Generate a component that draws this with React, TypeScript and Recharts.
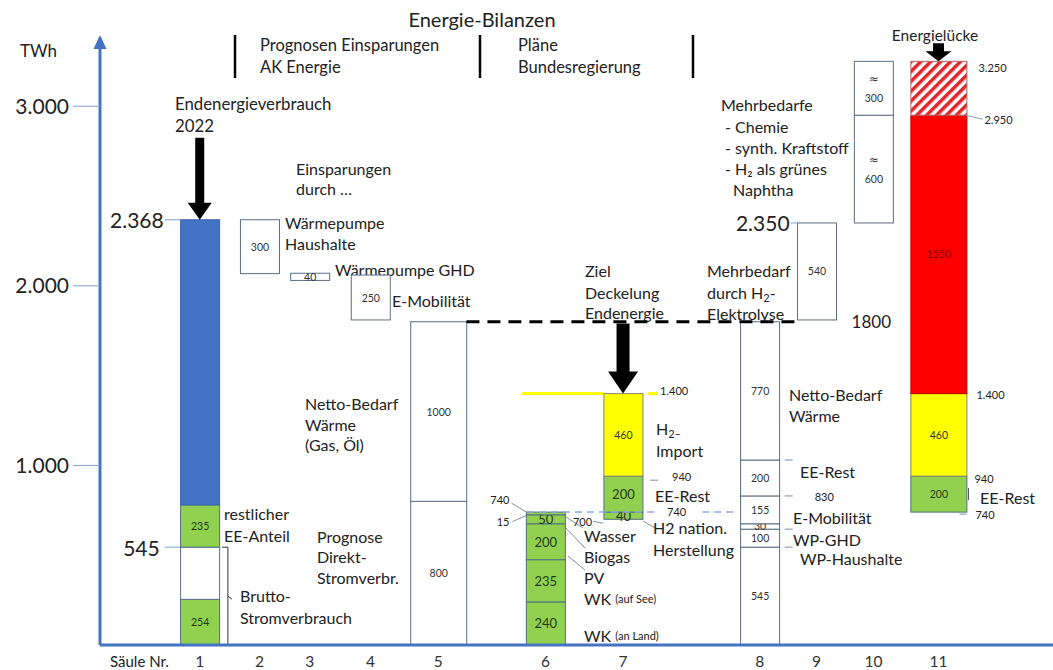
import React from 'react';
import {
  ComposedChart,
  Bar,
  XAxis,
  YAxis,
  ReferenceLine,
  ReferenceDot,
  ReferenceArea,
  Customized,
} from 'recharts';

// ---------------- data (TWh) ----------------
const columnNames = ['1', '2', '3', '4', '5', '6', '7', '8', '9', '10', '11'];
// bottom of each floating column
const columnBase = [0, 2068, 2030, 1810, 0, 0, 700, 0, 1810, 2350, 740];
// stacked segments, bottom to top
const columnSegments: number[][] = [
  [254, 291, 235, 1588],
  [300],
  [40],
  [250],
  [800, 1000],
  [240, 235, 200, 50, 15],
  [40, 200, 460],
  [545, 100, 30, 155, 200, 770],
  [540],
  [600, 300],
  [200, 460, 1550, 300],
];
const segmentKinds: string[][] = [
  ['ee', 'plain', 'ee', 'fossil'],
  ['plain'],
  ['plain'],
  ['plain'],
  ['plain', 'plain'],
  ['ee', 'ee', 'ee', 'ee', 'ee'],
  ['ee', 'ee', 'h2'],
  ['plain', 'plain', 'plain', 'plain', 'plain', 'plain'],
  ['plain'],
  ['plain', 'plain'],
  ['ee', 'h2', 'gap', 'hatch'],
];
const segmentLabels: string[][] = [
  ['254', '', '235', ''],
  ['300'],
  ['40'],
  ['250'],
  ['800', '1000'],
  ['240', '235', '200', '50', ''],
  ['40', '200', '460'],
  ['545', '100', '30', '155', '200', '770'],
  ['540'],
  ['≈|600', '≈|300'],
  ['200', '460', '1550', ''],
];
const yTicks = [1000, 2000, 3000];
const targetLevel = 1800;
const importTop = 1400;
const nationalLevel = 740;

// ---------------- layout / style ----------------
const FONT = 'Lato, "Open Sans", sans-serif';
const AXIS_BLUE = '#4472C4';
const columnSlot = [1, 1.81, 2.49, 3.31, 4.23, 5.68, 6.73, 8.58, 9.35, 10.12, 11];
const wideColumns = new Set([4, 10]);
const largeLabelColumns = new Set([5, 6]);
const MAX_SEG = 6;

const kindStyle: Record<string, { fill: string; stroke: string; text: string }> = {
  ee: { fill: '#92D050', stroke: '#4E7086', text: '#1E3A14' },
  plain: { fill: '#FFFFFF', stroke: '#5B6F82', text: '#333333' },
  fossil: { fill: '#4472C4', stroke: '#3A64AE', text: '#FFFFFF' },
  h2: { fill: '#FFFF00', stroke: '#85856A', text: '#333333' },
  gap: { fill: '#FF0000', stroke: '#C00000', text: '#8B0000' },
  hatch: { fill: 'url(#hatch)', stroke: '#B86060', text: '#333333' },
};

const rows = columnNames.map((name, i) => {
  const r: any = { idx: i, name, pos: columnSlot[i], base: columnBase[i] };
  columnSegments[i].forEach((v, k) => {
    r['s' + k] = v;
  });
  return r;
});

const segShape = (k: number) => (p: any) => {
  const i = p?.payload?.idx;
  if (i == null) return null;
  const v = columnSegments[i][k];
  if (v == null) return null;
  const kind = segmentKinds[i][k];
  const st = kindStyle[kind];
  const w = wideColumns.has(i) ? 56 : p.width;
  const cx = p.x + p.width / 2;
  const x = cx - w / 2;
  const y = Math.min(p.y, p.y + p.height);
  const h = Math.abs(p.height);
  const label = segmentLabels[i][k];
  const size = kind === 'ee' && largeLabelColumns.has(i) ? 13 : 10.5;
  const lines = label ? label.split('|') : [];
  return (
    <g>
      <rect x={x} y={y} width={w} height={h} fill={st.fill} stroke={st.stroke} strokeWidth={1} />
      {lines.length === 1 && (
        <text x={cx} y={y + h / 2} textAnchor="middle" dominantBaseline="central" fontSize={size} fill={st.text} fontFamily={FONT}>
          {lines[0]}
        </text>
      )}
      {lines.length === 2 && (
        <g fill={st.text} textAnchor="middle">
          <text x={cx} y={y + h / 2 - 9} dominantBaseline="central" fontSize={12} fontFamily='"DejaVu Sans", sans-serif'>
            {lines[0]}
          </text>
          <text x={cx} y={y + h / 2 + 10} dominantBaseline="central" fontSize={size} fontFamily={FONT}>
            {lines[1]}
          </text>
        </g>
      )}
    </g>
  );
};

const arrowDown = (cx: number, cy: number, len: number, sw: number, hw: number, hh: number) => (
  <path
    d={`M${cx - sw / 2},${cy - len} H${cx + sw / 2} V${cy - hh} H${cx + hw / 2} L${cx},${cy} L${cx - hw / 2},${cy - hh} H${cx - sw / 2} Z`}
    fill="#000"
  />
);

const T = (x: number, y: number, s: React.ReactNode, size = 11, anchor: 'start' | 'middle' | 'end' = 'start') => (
  <text x={x} y={y} fontSize={size} textAnchor={anchor} dominantBaseline="central" fill="#222" fontFamily={FONT}>
    {s}
  </text>
);
const L = (x1: number, y1: number, x2: number, y2: number, c = '#7F8FA0', w = 1) => (
  <line x1={x1} y1={y1} x2={x2} y2={y2} stroke={c} strokeWidth={w} />
);

const mark = (key: string, x: number, y: number, draw: (cx: number, cy: number) => React.ReactNode) => (
  <ReferenceDot
    key={key}
    x={x}
    y={y}
    r={0}
    ifOverflow="visible"
    shape={(p: any) => <g>{draw(p.cx, p.cy)}</g>}
  />
);

type FT = [number, number, React.ReactNode, number?, ('start' | 'middle' | 'end')?];
const freeTexts: FT[] = [
  [20, 50, 'TWh', 17],
  [482, 19, 'Energie-Bilanzen', 20, 'middle'],
  [260, 45, 'Prognosen Einsparungen', 16.5],
  [260, 67, 'AK Energie', 16.5],
  [518, 45, 'Pläne', 16.5],
  [518, 67, 'Bundesregierung', 16.5],
  [175, 103, 'Endenergieverbrauch', 16.8],
  [175, 125, '2022', 16.8],
  [296, 168, 'Einsparungen'],
  [296, 188, 'durch …'],
  [285, 222, 'Wärmepumpe'],
  [285, 243, 'Haushalte'],
  [335, 269, 'Wärmepumpe GHD'],
  [392, 300, 'E-Mobilität'],
  [305, 403, 'Netto-Bedarf'],
  [305, 424, 'Wärme'],
  [305, 444, '(Gas, Öl)'],
  [224, 513, 'restlicher'],
  [224, 535, 'EE-Anteil'],
  [317, 536, 'Prognose'],
  [317, 556, 'Direkt-'],
  [317, 577, 'Stromverbr.'],
  [240, 595, 'Brutto-'],
  [240, 617, 'Stromverbrauch'],
  [585, 270, 'Ziel'],
  [585, 292, 'Deckelung'],
  [585, 312, 'Endenergie'],
  [707, 270, 'Mehrbedarf'],
  [707, 292, <>durch H<tspan fontSize={11} dy={5}>2</tspan><tspan dy={-5}>-</tspan></>],
  [707, 313, 'Elektrolyse'],
  [721, 104, 'Mehrbedarfe'],
  [725, 126, '- Chemie'],
  [725, 147, '- synth. Kraftstoff'],
  [725, 168, '- H₂ als grünes'],
  [733, 189, 'Naphtha'],
  [935, 35, 'Energielücke', 15.5, 'middle'],
  [789, 394, 'Netto-Bedarf'],
  [789, 415, 'Wärme'],
  [800, 471, 'EE-Rest'],
  [793, 517, 'E-Mobilität'],
  [793, 539, 'WP-GHD'],
  [800, 558, 'WP-Haushalte'],
  [656, 428, <>H<tspan fontSize={11} dy={5}>2–</tspan></>],
  [656, 450, 'Import'],
  [655, 495, 'EE-Rest'],
  [653, 527, 'H2 nation.'],
  [653, 549, 'Herstellung'],
  [584, 535, 'Wasser'],
  [584, 556, 'Biogas'],
  [584, 577, 'PV'],
  [584, 598, <>WK <tspan fontSize={11}>(auf See)</tspan></>],
  [584, 635, <>WK <tspan fontSize={11}>(an Land)</tspan></>],
  [980, 497, 'EE-Rest'],
  [110, 661, 'Säule Nr.', 15],
];
const dividers = [235, 480, 693];
const leaders = [
  [563, 515, 583, 528],
  [565, 527, 585, 548],
  [568, 556, 585, 570],
  [643, 521, 655, 528],
];

const FreeLayer = () => (
  <g>
    <defs>
      <pattern id="hatch" patternUnits="userSpaceOnUse" width="7" height="7" patternTransform="rotate(45)">
        <rect width="7" height="7" fill="#FFFFFF" />
        <rect width="3.5" height="7" fill="#E0262B" />
      </pattern>
    </defs>
    {dividers.map((x) => (
      <line key={'d' + x} x1={x} y1={35} x2={x} y2={78} stroke="#000" strokeWidth={2.5} />
    ))}
    {leaders.map((l, i) => (
      <g key={'l' + i}>{L(l[0], l[1], l[2], l[3])}</g>
    ))}
    {freeTexts.map((t, i) => (
      <g key={'t' + i}>{T(t[0], t[1], t[2], t[3] ?? 16, t[4] ?? 'start')}</g>
    ))}
  </g>
);

const fmt = (v: number) => `${Math.floor(v / 1000)}.${String(v % 1000).padStart(3, '0')}`;

export default function App() {
  const c = columnSlot;
  return (
    <div style={{ position: 'absolute', left: 0, top: 0, width: 1053, height: 670, background: '#fff', fontFamily: FONT }}>
      <ComposedChart width={1053} height={670} data={rows} margin={{ top: 38, right: 0, bottom: 0, left: 0 }}>
        <XAxis
          type="number"
          dataKey="pos"
          domain={[-0.35, 12.55]}
          ticks={columnSlot}
          interval={0}
          allowDataOverflow
          tickFormatter={(v: number) => columnNames[columnSlot.indexOf(v)] ?? ''}
          axisLine={{ stroke: AXIS_BLUE, strokeWidth: 3 }}
          tickLine={false}
          tickMargin={5}
          height={25}
          tick={{ fontSize: 15.5, fill: '#333', fontFamily: FONT }}
        />
        <YAxis
          type="number"
          domain={[0, 3380]}
          ticks={yTicks}
          allowDataOverflow
          width={100}
          tickFormatter={fmt}
          axisLine={{ stroke: AXIS_BLUE, strokeWidth: 3 }}
          tickLine={{ stroke: '#7F9FCF', strokeWidth: 1 }}
          tickSize={27}
          tickMargin={4}
          tick={{ fontSize: 21, fill: '#222', fontFamily: FONT }}
        />
        <Bar dataKey="base" stackId="a" barSize={39} fill="transparent" isAnimationActive={false} />
        {Array.from({ length: MAX_SEG }, (_, k) => (
          <Bar key={'s' + k} dataKey={'s' + k} stackId="a" barSize={39} isAnimationActive={false} shape={segShape(k)} />
        ))}

        <ReferenceLine
          segment={[{ x: 4.61, y: targetLevel }, { x: 9.09, y: targetLevel }]}
          stroke="#000"
          strokeWidth={3}
          strokeDasharray="13 8"
          ifOverflow="visible"
        />
        <ReferenceLine
          segment={[{ x: 5.36, y: importTop }, { x: 6.46, y: importTop }]}
          stroke="#FFFF00"
          strokeWidth={3}
          ifOverflow="visible"
        />
        <ReferenceLine
          segment={[{ x: 7.07, y: importTop }, { x: 7.2, y: importTop }]}
          stroke="#FFFF00"
          strokeWidth={3}
          ifOverflow="visible"
        />
        <ReferenceLine
          segment={[{ x: 5.43, y: nationalLevel }, { x: 7.22, y: nationalLevel }]}
          stroke="#8FAADC"
          strokeWidth={1.5}
          strokeDasharray="7 5"
          ifOverflow="visible"
        />
        <ReferenceLine
          segment={[{ x: 7.8, y: nationalLevel }, { x: 8.25, y: nationalLevel }]}
          stroke="#8FAADC"
          strokeWidth={1.5}
          strokeDasharray="7 5"
          ifOverflow="visible"
        />
        <ReferenceArea
          x1={1.3}
          x2={1.4}
          y1={0}
          y2={545}
          ifOverflow="visible"
          shape={(p: any) => {
            const x0 = p.x;
            const yt = p.y;
            const yb = p.y + p.height;
            const m = (yt + yb) / 2;
            return (
              <path
                d={`M${x0},${yt} H${x0 + 6} V${yb} H${x0} M${x0 + 6},${m} L${x0 + 10},${m + 3}`}
                fill="none"
                stroke="#333"
                strokeWidth={1}
              />
            );
          }}
        />

        {mark('yarrow', -0.35, 3380, (cx, cy) => (
          <path d={`M${cx},${cy - 3} L${cx - 6.5},${cy + 11} L${cx + 6.5},${cy + 11} Z`} fill={AXIS_BLUE} />
        ))}
        {mark('a1', c[0], 2368, (cx, cy) => arrowDown(cx, cy, 82, 9, 24, 17))}
        {mark('a7', c[6], importTop, (cx, cy) => arrowDown(cx, cy, 70, 13, 30, 22))}
        {mark('a11', c[10], 3250, (cx, cy) => arrowDown(cx, cy, 18, 11, 26, 10))}

        {mark('v2368', c[0], 2368, (cx, cy) => (
          <g>
            {L(cx - 35, cy, cx - 19.5, cy, '#7F9FCF')}
            {T(cx - 36, cy, '2.368', 21, 'end')}
          </g>
        ))}
        {mark('v545', c[0], 545, (cx, cy) => (
          <g>
            {L(cx - 35, cy, cx - 19.5, cy, '#7F9FCF')}
            {T(cx - 40, cy, '545', 21, 'end')}
          </g>
        ))}
        {mark('v2350', c[8], 2350, (cx, cy) => (
          <g>
            {L(cx - 26, cy, cx - 19, cy, '#7F9FCF')}
            {T(cx - 27, cy, '2.350', 21, 'end')}
          </g>
        ))}
        {mark('v1800', c[8], targetLevel, (cx, cy) => T(cx + 35, cy, '1800', 17))}
        {mark('v1400a', c[6], importTop, (cx, cy) => T(cx + 37, cy - 3, '1.400', 11))}
        {mark('v940a', c[6], 940, (cx, cy) => (
          <g>
            {L(cx + 27, cy + 4, cx + 35, cy + 4)}
            {T(cx + 49, cy, '940', 11)}
          </g>
        ))}
        {mark('v740a', c[6], nationalLevel, (cx, cy) => T(cx + 44, cy - 1, '740', 11))}
        {mark('v740b', c[5], nationalLevel, (cx, cy) => (
          <g>
            {L(cx - 34, cy - 9, cx - 19, cy)}
            {T(cx - 36, cy - 13, '740', 11, 'end')}
          </g>
        ))}
        {mark('v15', c[5], 732, (cx, cy) => (
          <g>
            {L(cx - 33, cy + 8, cx - 19, cy + 2)}
            {T(cx - 36, cy + 8, '15', 11, 'end')}
          </g>
        ))}
        {mark('v700', c[6], 700, (cx, cy) => (
          <g>
            {L(cx - 30, cy + 2, cx - 20, cy + 4)}
            {T(cx - 31, cy + 2, '700', 11, 'end')}
          </g>
        ))}
        {[1030, 830, 645, 545].map((lv) =>
          mark('d8' + lv, c[7], lv, (cx, cy) => L(cx + 25, cy, cx + 33, cy))
        )}
        {mark('v830', c[7], 830, (cx, cy) => T(cx + 55, cy + 1, '830', 11))}
        {mark('v3250', c[10], 3250, (cx, cy) => T(cx + 40, cy + 6, '3.250', 11))}
        {mark('v2950', c[10], 2950, (cx, cy) => (
          <g>
            {L(cx + 27, cy, cx + 44, cy + 4, '#7F9FCF')}
            {T(cx + 46, cy + 4, '2.950', 11)}
          </g>
        ))}
        {mark('v1400b', c[10], importTop, (cx, cy) => T(cx + 38, cy + 1, '1.400', 11))}
        {mark('v940b', c[10], 940, (cx, cy) => T(cx + 36, cy + 2, '940', 11))}
        {mark('v740c', c[10], nationalLevel, (cx, cy) => (
          <g>
            {L(cx + 21, cy + 2, cx + 28, cy + 2)}
            {T(cx + 37, cy + 2, '740', 11)}
          </g>
        ))}
        {mark('bar11', c[10], 840, (cx, cy) => L(cx + 30, cy - 6, cx + 30, cy + 6, '#555'))}

        <Customized component={FreeLayer} />
      </ComposedChart>
    </div>
  );
}
